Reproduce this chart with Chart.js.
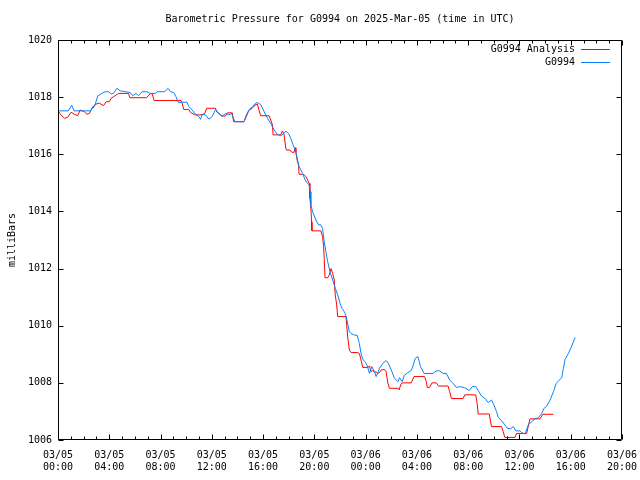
<!DOCTYPE html>
<html>
<head>
<meta charset="utf-8">
<script src="https://cdn.jsdelivr.net/npm/chart.js@4/dist/chart.umd.min.js"></script>
<style>
html,body{margin:0;padding:0;background:#fff;}
canvas{display:block;}
</style>
</head>
<body>
<canvas id="c" width="640" height="480"></canvas>
<script>
// ---- data (hours since 03/05 00:00 UTC, pressure in mb) ----
const TITLE = "Barometric Pressure for G0994 on 2025-Mar-05 (time in UTC)";
const Y_LABEL = "milliBars";
const SERIES_NAMES = ["G0994 Analysis", "G0994"];
const TICK_DATES = ["03/05","03/05","03/05","03/05","03/05","03/05","03/06","03/06","03/06","03/06","03/06","03/06"];
const TICK_TIMES = ["00:00","04:00","08:00","12:00","16:00","20:00","00:00","04:00","08:00","12:00","16:00","20:00"];

const HOURS_OBS = [0,0.8,1.07,1.25,2.5,2.85,3.1,3.42,3.68,3.94,4.15,4.33,4.6,4.85,5.25,5.64,5.82,6.08,6.29,6.55,6.94,7.2,7.6,7.73,8.32,8.59,8.77,9.03,9.2,9.37,10.07,10.2,10.47,10.73,10.99,11.12,11.25,11.5,11.77,12.03,12.29,12.55,12.82,13.07,13.33,13.54,13.8,14.51,14.7,14.9,15.16,15.42,15.55,15.81,15.99,16.2,16.42,16.6,16.86,17.12,17.38,17.64,17.77,17.98,18.16,18.34,18.55,18.69,18.81,19.08,19.28,19.47,19.6,19.67,19.73,19.86,20.12,20.33,20.51,20.64,20.77,20.9,21.04,21.22,21.43,21.63,21.82,22.0,22.15,22.34,22.47,22.73,22.86,23.12,23.33,23.51,23.64,23.78,23.96,24.11,24.3,24.48,24.69,24.82,25.08,25.34,25.6,25.78,26.0,26.25,26.52,26.64,26.85,27.03,27.3,27.56,27.69,27.87,28.08,28.28,28.55,29.25,29.51,29.77,30.04,30.3,30.56,30.82,31.08,31.34,31.73,32.08,32.33,32.59,32.78,33.04,33.3,33.56,33.82,34.0,34.21,34.35,34.6,34.86,35.05,35.31,35.52,35.72,36.04,36.17,36.43,36.56,36.69,36.95,37.21,37.48,37.74,37.92,38.13,38.39,38.65,38.86,39.04,39.3,39.43,39.56,39.82,40.08,40.34];
const P_OBS = [1017.52,1017.52,1017.72,1017.52,1017.52,1017.67,1018.04,1018.13,1018.19,1018.19,1018.11,1018.13,1018.31,1018.22,1018.19,1018.16,1018.05,1018.13,1018.05,1018.19,1018.19,1018.13,1018.13,1018.19,1018.19,1018.31,1018.19,1018.16,1018.02,1017.82,1017.82,1017.67,1017.55,1017.40,1017.32,1017.22,1017.40,1017.38,1017.23,1017.32,1017.57,1017.43,1017.34,1017.43,1017.38,1017.43,1017.14,1017.14,1017.32,1017.55,1017.67,1017.79,1017.81,1017.74,1017.58,1017.38,1017.20,1017.08,1016.85,1016.70,1016.65,1016.73,1016.81,1016.73,1016.56,1016.33,1016.09,1015.80,1015.57,1015.33,1015.10,1014.98,1014.93,1014.69,1014.23,1013.99,1013.70,1013.53,1013.53,1013.41,1012.94,1012.59,1012.24,1011.89,1011.60,1011.31,1011.08,1010.79,1010.61,1010.49,1010.35,1009.79,1009.73,1009.67,1009.67,1009.38,1009.03,1008.82,1008.74,1008.62,1008.33,1008.57,1008.39,1008.22,1008.51,1008.68,1008.78,1008.68,1008.45,1008.16,1008.04,1008.18,1008.04,1008.27,1008.36,1008.43,1008.59,1008.86,1008.92,1008.57,1008.33,1008.33,1008.42,1008.42,1008.33,1008.33,1008.10,1007.98,1007.84,1007.87,1007.83,1007.73,1007.87,1007.87,1007.73,1007.54,1007.46,1007.31,1007.40,1007.23,1007.00,1006.79,1006.68,1006.53,1006.41,1006.39,1006.47,1006.32,1006.32,1006.26,1006.21,1006.35,1006.53,1006.64,1006.74,1006.78,1006.93,1007.11,1007.19,1007.40,1007.69,1007.98,1008.06,1008.19,1008.51,1008.82,1009.03,1009.29,1009.59];

const HOURS_ANA = [0,0.23,0.5,0.76,1.02,1.28,1.54,1.72,2.06,2.25,2.45,2.64,2.9,3.23,3.55,3.76,4.0,4.15,4.41,4.72,5.5,5.6,6.9,7.2,7.35,7.5,9.6,9.68,9.81,10.2,10.33,10.67,11.25,11.45,11.6,12.29,12.37,12.76,13.07,13.2,13.6,13.7,14.51,14.7,14.9,15.16,15.37,15.55,15.68,15.81,16.46,16.6,16.73,16.78,17.38,17.51,17.64,17.77,17.82,18.1,18.24,18.42,18.5,18.56,18.68,18.76,18.81,19.08,19.2,19.34,19.47,19.6,19.65,19.73,19.78,19.81,20.51,20.64,20.72,20.77,20.83,21.04,21.16,21.3,21.43,21.55,21.63,21.74,21.82,22.47,22.6,22.73,22.86,23.38,23.51,23.64,23.78,24.17,24.3,24.43,24.56,24.69,24.82,24.95,25.08,25.21,25.47,25.6,25.73,25.86,26.52,26.6,26.78,26.91,27.56,27.77,28.6,28.73,28.81,28.99,29.18,29.51,29.69,30.43,30.56,30.69,31.6,31.73,32.59,32.7,32.78,33.64,33.82,34.6,34.73,34.86,35.65,35.78,36.56,36.69,36.82,37.6,37.82,38.65];
const P_ANA = [1017.52,1017.38,1017.26,1017.30,1017.47,1017.40,1017.35,1017.55,1017.49,1017.40,1017.43,1017.61,1017.75,1017.79,1017.70,1017.84,1017.84,1017.96,1018.04,1018.13,1018.13,1017.98,1017.98,1018.12,1018.12,1017.88,1017.88,1017.79,1017.57,1017.57,1017.47,1017.38,1017.38,1017.43,1017.61,1017.61,1017.49,1017.34,1017.34,1017.45,1017.45,1017.14,1017.14,1017.38,1017.55,1017.61,1017.72,1017.76,1017.55,1017.35,1017.35,1017.20,1017.03,1016.68,1016.68,1016.82,1016.68,1016.21,1016.15,1016.15,1016.07,1016.07,1016.23,1016.07,1015.74,1015.63,1015.30,1015.30,1015.28,1015.22,1015.10,1014.98,1014.46,1014.11,1013.64,1013.32,1013.32,1013.12,1012.77,1012.36,1011.68,1011.68,1011.77,1012.00,1011.83,1011.60,1011.08,1010.73,1010.32,1010.32,1009.60,1009.15,1009.06,1009.06,1009.03,1008.80,1008.54,1008.54,1008.59,1008.39,1008.45,1008.36,1008.39,1008.33,1008.36,1008.45,1008.47,1008.39,1008.00,1007.81,1007.81,1007.75,1007.98,1008.00,1008.00,1008.22,1008.22,1008.04,1007.84,1007.84,1008.00,1008.00,1007.89,1007.89,1007.69,1007.45,1007.45,1007.58,1007.58,1007.28,1006.91,1006.91,1006.47,1006.47,1006.29,1006.09,1006.09,1006.23,1006.23,1006.49,1006.74,1006.74,1006.90,1006.90];

const X_MIN = 0, X_MAX = 44, X_STEP = 4;
const Y_MIN = 1006, Y_MAX = 1020, Y_STEP = 2;

// ---- build ----
const FONT = {family: "'DejaVu Sans Mono', monospace", size: 10};
const COLORS = ["#ff0000", "#0a80ff"];
const toXY = (xs, ys) => xs.map((x, i) => ({x: x, y: ys[i]}));

const framePlugin = {
  id: 'frame',
  afterDatasetsDraw(chart) {
    const ctx = chart.ctx, a = chart.chartArea;
    const xs = chart.scales.x, ys = chart.scales.y;
    const L = Math.round(a.left) + 0.5, R = Math.round(a.right) - 0.5;
    const T = Math.round(a.top) + 0.5, B = Math.round(a.bottom) - 0.5;
    ctx.save();
    ctx.strokeStyle = '#000';
    ctx.lineWidth = 1;
    ctx.beginPath();
    ctx.rect(L, T, R - L, B - T);
    for (let h = X_MIN; h <= X_MAX; h++) {
      const px = Math.round(xs.getPixelForValue(h)) + 0.5;
      const len = (h % X_STEP === 0) ? 5 : 3;
      ctx.moveTo(px, B); ctx.lineTo(px, B - len);
      ctx.moveTo(px, T); ctx.lineTo(px, T + len);
    }
    for (let v = Y_MIN; v <= Y_MAX; v += Y_STEP) {
      const py = Math.round(ys.getPixelForValue(v)) + 0.5;
      ctx.moveTo(L, py); ctx.lineTo(L + 5, py);
      ctx.moveTo(R, py); ctx.lineTo(R - 5, py);
    }
    ctx.stroke();

    ctx.fillStyle = '#000';
    ctx.font = "10px 'DejaVu Sans Mono', monospace";
    ctx.textAlign = 'center';
    ctx.textBaseline = 'middle';
    ctx.fillText(TITLE, (a.left + a.right) / 2, 19);

    ctx.save();
    ctx.translate(12, (a.top + a.bottom) / 2);
    ctx.rotate(-Math.PI / 2);
    ctx.fillText(Y_LABEL, 0, 0);
    ctx.restore();

    ctx.textAlign = 'right';
    const ly = [49, 62];
    SERIES_NAMES.forEach((name, i) => {
      ctx.fillStyle = '#000';
      ctx.fillText(name, 575, ly[i]);
      ctx.strokeStyle = COLORS[i];
      ctx.beginPath();
      ctx.moveTo(581, ly[i] + 0.5);
      ctx.lineTo(610, ly[i] + 0.5);
      ctx.stroke();
    });
    ctx.restore();
  }
};

new Chart(document.getElementById('c'), {
  type: 'line',
  data: {
    datasets: [
      {label: SERIES_NAMES[0], data: toXY(HOURS_ANA, P_ANA), borderColor: COLORS[0], borderWidth: 1, pointRadius: 0, tension: 0, fill: false, order: 2},
      {label: SERIES_NAMES[1], data: toXY(HOURS_OBS, P_OBS), borderColor: COLORS[1], borderWidth: 1, pointRadius: 0, tension: 0, fill: false, order: 1}
    ]
  },
  options: {
    responsive: false,
    animation: false,
    devicePixelRatio: 1,
    layout: {padding: {top: 40, right: 18, left: 0, bottom: 0}},
    plugins: {legend: {display: false}, tooltip: {enabled: false}, title: {display: false}},
    scales: {
      x: {
        type: 'linear', min: X_MIN, max: X_MAX,
        grid: {display: false, drawTicks: false},
        border: {display: false},
        ticks: {
          stepSize: X_STEP, autoSkip: false, maxRotation: 0, minRotation: 0,
          color: '#000', font: FONT, padding: 9,
          callback: (v) => { const i = Math.round((v - X_MIN) / X_STEP); return [TICK_DATES[i], TICK_TIMES[i]]; }
        },
        afterFit: (s) => { s.height = 40; s.paddingLeft = 0; s.paddingRight = 0; }
      },
      y: {
        type: 'linear', min: Y_MIN, max: Y_MAX,
        grid: {display: false, drawTicks: false},
        border: {display: false},
        ticks: {stepSize: Y_STEP, color: '#000', font: FONT, padding: 6, callback: (v) => String(v)},
        afterFit: (s) => { s.width = 58; s.paddingTop = 0; s.paddingBottom = 0; }
      }
    }
  },
  plugins: [framePlugin]
});
</script>
</body>
</html>
